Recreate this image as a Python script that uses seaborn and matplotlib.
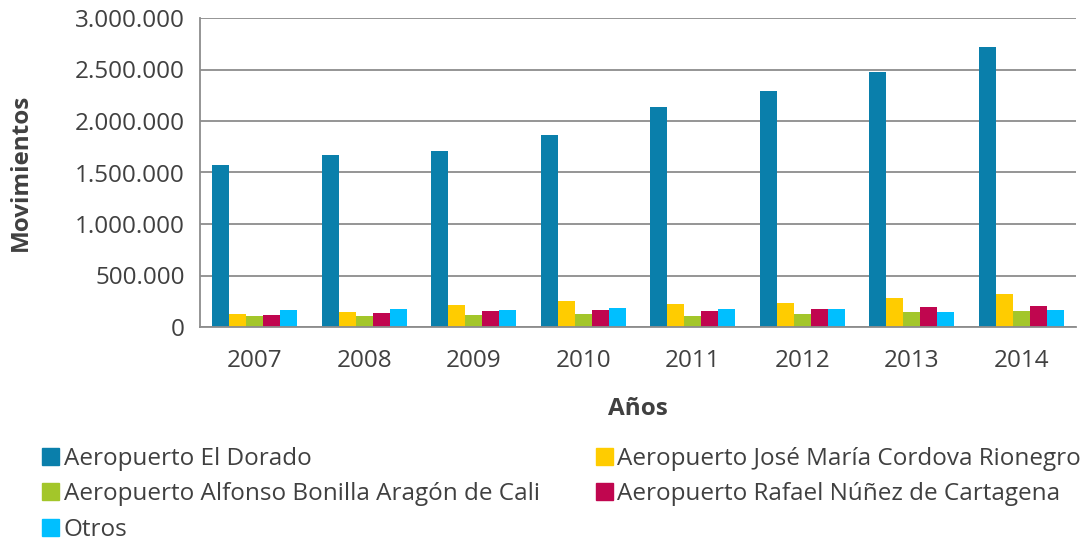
import matplotlib
matplotlib.use("Agg")
import matplotlib.pyplot as plt
import matplotlib.ticker as mticker
import pandas as pd
import numpy as np
import seaborn as sns

anios = ['2007', '2008', '2009', '2010', '2011', '2012', '2013', '2014']
el_dorado = [1573000, 1670000, 1709000, 1864000, 2136000, 2291000, 2476000, 2718000]
rionegro = [126000, 146000, 214000, 252000, 223000, 236000, 285000, 320000]
cali = [107000, 107000, 117000, 130000, 110000, 126000, 149000, 155000]
cartagena = [113000, 139000, 155000, 168000, 155000, 171000, 191000, 204000]
otros = [165000, 175000, 162000, 181000, 171000, 175000, 149000, 168000]

series = ['Aeropuerto El Dorado', 'Aeropuerto José María Cordova Rionegro',
          'Aeropuerto Alfonso Bonilla Aragón de Cali', 'Aeropuerto Rafael Núñez de Cartagena',
          'Otros']
colores = ['#0a7fab', '#ffcc00', '#a3c62a', '#c0064f', '#00bfff']

valores = [el_dorado, rionegro, cali, cartagena, otros]
df = pd.DataFrame({
    'Años': np.tile(anios, len(series)),
    'Aeropuerto': np.repeat(series, len(anios)),
    'Movimientos': np.concatenate(valores),
})

sns.set_style("white")
plt.rcParams['font.family'] = ['Open Sans', 'DejaVu Sans']
txt = '#404040'
grid = '#8c8c8c'
fs = 17.5

fig = plt.figure(figsize=(10.81, 5.41), dpi=100)
ax = fig.add_axes([200/1081, 1-327/541, 876/1081, 309/541])

sns.barplot(data=df, x='Años', y='Movimientos', hue='Aeropuerto', palette=colores,
            width=0.775, gap=0, errorbar=None, ax=ax, legend=False, saturation=1,
            edgecolor='none')

ax.set_ylim(0, 3000000)
ax.set_xlim(-0.5, len(anios) - 0.5)
ax.yaxis.set_major_locator(mticker.MultipleLocator(500000))
ax.yaxis.set_major_formatter(mticker.FuncFormatter(lambda v, p: f'{int(v):,}'.replace(',', '.')))
ax.yaxis.grid(True, color=grid, linewidth=1.3)
ax.set_axisbelow(True)

for s in ['top', 'right']:
    ax.spines[s].set_visible(False)
for s in ['left', 'bottom']:
    ax.spines[s].set_color(grid)
    ax.spines[s].set_linewidth(1.3)

ax.set_xticks(np.arange(-0.5, len(anios)), minor=True)
ax.tick_params(axis='x', which='major', length=0, pad=16, labelsize=fs, labelcolor=txt)
ax.tick_params(axis='x', which='minor', length=8, width=1.3, color=grid)
ax.tick_params(axis='y', length=8, width=1.3, color=grid, labelsize=fs, labelcolor=txt, pad=3)

ax.set_xlabel('Años', fontsize=fs, fontweight='bold', color=txt, labelpad=17)
ax.set_ylabel('Movimientos', fontsize=fs, fontweight='bold', color=txt, labelpad=30)

# legend fills column-wise, so reorder to read row by row
orden = [0, 2, 4, 1, 3]
handles = [plt.Rectangle((0, 0), 1, 1, color=colores[i]) for i in orden]
etiquetas = [series[i] for i in orden]
fig.legend(handles, etiquetas, loc='upper left', bbox_to_anchor=(32/1081, 1-437/541),
           ncol=2, frameon=False, fontsize=fs, labelcolor=txt,
           handlelength=0.7, handleheight=0.7, handletextpad=0.2,
           columnspacing=2.3, labelspacing=0.47, borderaxespad=0)

fig.savefig('out.png', dpi=100)
